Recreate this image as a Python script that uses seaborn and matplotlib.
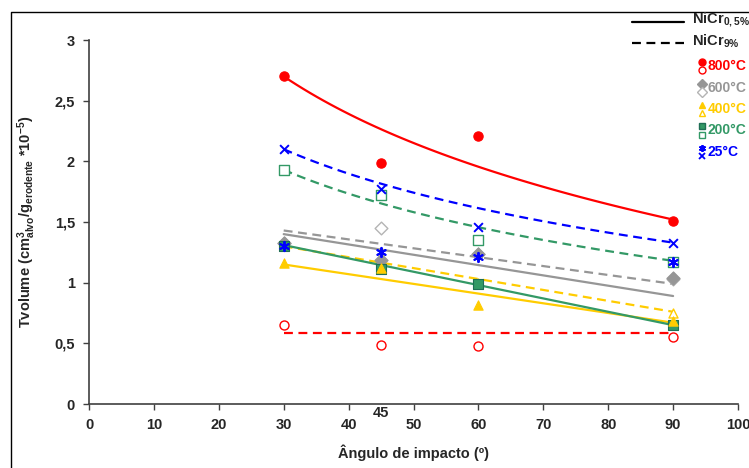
import numpy as np
import pandas as pd
import matplotlib
matplotlib.use('Agg')
import matplotlib.pyplot as plt
import seaborn as sns
from matplotlib.lines import Line2D

# impact angles (deg)
angles = [30, 45, 60, 90]

# wear volume, NiCr 0,5% (filled markers) and NiCr 9% (open markers)
v800_low = [2.70, 1.99, 2.21, 1.51]
v800_high = [0.65, 0.49, 0.48, 0.55]
v600_low = [1.33, 1.19, 1.24, 1.04]
v600_high = [1.33, 1.45, 1.24, 1.03]
v400_low = [1.16, 1.12, 0.82, 0.68]
v400_high = [1.30, 1.14, 1.00, 0.75]
v200_low = [1.30, 1.11, 0.99, 0.65]
v200_high = [1.93, 1.72, 1.35, 1.17]
v25_low = [1.30, 1.25, 1.21, 1.17]
v25_high = [2.10, 1.77, 1.46, 1.33]

temps = ['800°C', '600°C', '400°C', '200°C', '25°C']

# trendlines: value at 30° and at 90°, and the model
trend_low_30 = [2.70, 1.40, 1.15, 1.31, None]
trend_low_90 = [1.52, 0.89, 0.67, 0.65, None]
trend_low_kind = ['log', 'lin', 'lin', 'lin', None]
trend_high_30 = [0.585, 1.43, 1.30, 1.93, 2.10]
trend_high_90 = [0.585, 0.99, 0.76, 1.18, 1.33]
trend_high_kind = ['lin', 'lin', 'lin', 'log', 'log']

y_ticks = [0, 0.5, 1, 1.5, 2, 2.5, 3]
y_ticklabels = ['0', '0,5', '1', '1,5', '2', '2,5', '3']
x_ticks = list(range(0, 101, 10))

colors = ['#FF0000', '#969696', '#FFCC00', '#339966', '#0000FF']
open_edge = ['#FF0000', '#B4B4B4', '#FFCC00', '#339966', '#0000FF']
markers_low = ['o', 'D', '^', 's', (6, 2, 0)]
markers_high = ['o', 'D', '^', 's', 'x']

low_vals = [v800_low, v600_low, v400_low, v200_low, v25_low]
high_vals = [v800_high, v600_high, v400_high, v200_high, v25_high]

sns.set_style('white')
plt.rcParams['font.family'] = ['Liberation Sans', 'DejaVu Sans']
plt.rcParams['mathtext.fontset'] = 'custom'
plt.rcParams['mathtext.rm'] = 'Liberation Sans'
plt.rcParams['mathtext.bf'] = 'Liberation Sans:bold'
plt.rcParams['mathtext.default'] = 'regular'

fig = plt.figure(figsize=(7.49, 4.68), dpi=100)
ax = fig.add_axes([89 / 749, 64 / 468, 649 / 749, 364 / 468])


def trend(y30, y90, kind):
    xs = np.linspace(30, 90, 60)
    if kind == 'log':
        b = (y90 - y30) / np.log(3)
        ys = y30 + b * np.log(xs / 30)
    else:
        ys = y30 + (y90 - y30) * (xs - 30) / 60
    return pd.DataFrame({'x': xs, 'y': ys})


# trendlines
for i in range(5):
    if trend_low_kind[i] is not None:
        d = trend(trend_low_30[i], trend_low_90[i], trend_low_kind[i])
        sns.lineplot(data=d, x='x', y='y', ax=ax, color=colors[i], lw=1.6)
    d = trend(trend_high_30[i], trend_high_90[i], trend_high_kind[i])
    sns.lineplot(data=d, x='x', y='y', ax=ax, color=colors[i], lw=1.6,
                 dashes=False, linestyle=(0, (4, 2.5)))

# points, in the order the original draws them
order = [0, 1, 3, 2, 4]
for i in order:
    df = pd.DataFrame({'angle': angles, 'low': low_vals[i], 'high': high_vals[i]})
    if markers_high[i] == 'x':
        sns.scatterplot(data=df, x='angle', y='high', ax=ax, marker='x',
                        color=colors[i], s=40, linewidth=1.4, zorder=5)
    else:
        sns.scatterplot(data=df, x='angle', y='high', ax=ax, marker=markers_high[i],
                        facecolor='white', edgecolor=open_edge[i], s=42,
                        linewidth=1.0, zorder=5)
    if i == 4:
        sns.scatterplot(data=df, x='angle', y='low', ax=ax, marker=markers_low[i],
                        color=colors[i], edgecolor=colors[i], s=45,
                        linewidth=1.4, zorder=6)
    else:
        edge = '#1F6E55' if i == 3 else colors[i]
        sns.scatterplot(data=df, x='angle', y='low', ax=ax, marker=markers_low[i],
                        color=colors[i], edgecolor=edge, s=45,
                        linewidth=0.8, zorder=6)

ax.set_xlim(0, 100)
ax.set_ylim(0, 3)
ax.set_xticks(x_ticks)
ax.set_yticks(y_ticks)
ax.set_yticklabels(y_ticklabels)
for lab in ax.get_xticklabels() + ax.get_yticklabels():
    lab.set_fontweight('bold')
    lab.set_fontsize(10.5)
ax.tick_params(axis='both', direction='out', length=4, width=1, color='#404040', pad=6,
               left=True, bottom=True)
for s in ['top', 'right']:
    ax.spines[s].set_visible(False)
for s in ['left', 'bottom']:
    ax.spines[s].set_color('#404040')
    ax.spines[s].set_linewidth(1.2)

ax.text(45, -0.026, '45', transform=ax.get_xaxis_transform(), ha='center', va='center',
        fontsize=10.5, fontweight='bold')

ax.set_xlabel('Ângulo de impacto (º)', fontsize=10.5, fontweight='bold')
ax.xaxis.set_label_coords(0.5, -0.11)
ax.set_ylabel(r'Tvolume (cm$^{3}_{alvo}$/g$_{erodente}$ *10$^{-5}$)', fontsize=10.5,
              fontweight='bold')
ax.yaxis.set_label_coords(-0.078, 0.5)


def fp(x, y):
    return x / 749, 1 - y / 468


# outer chart frame
x0, y0 = fp(11, 12)
fig.add_artist(Line2D([x0, x0, 1.01], [-0.01, y0, y0], transform=fig.transFigure,
                      color='black', lw=1.0))

# legend built by hand: two line styles, then stacked marker pairs
for yy, ls, lab in [(22, '-', r'NiCr$_{\mathbf{0,5\%}}$'), (43, (0, (4, 2.5)), r'NiCr$_{\mathbf{9\%}}$')]:
    a, b = fp(632, yy)
    c, _ = fp(684, yy)
    fig.add_artist(Line2D([a, c], [b, b], transform=fig.transFigure, color='black',
                          lw=1.6, linestyle=ls))
    tx, ty = fp(692, yy - 2)
    fig.text(tx, ty, lab, fontsize=10.5, fontweight='bold', va='center', ha='left')

for i, t in enumerate(temps):
    ytop = 62 + i * 21.5
    mx, my1 = fp(702, ytop)
    _, my2 = fp(702, ytop + 8)
    if i == 4:
        fig.add_artist(Line2D([mx], [my1], transform=fig.transFigure, marker=markers_low[i],
                              color=colors[i], markersize=5, mew=1.3, linestyle='none'))
        fig.add_artist(Line2D([mx], [my2], transform=fig.transFigure, marker='x',
                              color=colors[i], markersize=5, mew=1.3, linestyle='none'))
    else:
        edge = '#1F6E55' if i == 3 else colors[i]
        fig.add_artist(Line2D([mx], [my1], transform=fig.transFigure, marker=markers_low[i],
                              color=colors[i], mec=edge, markersize=5, linestyle='none'))
        fig.add_artist(Line2D([mx], [my2], transform=fig.transFigure, marker=markers_high[i],
                              mfc='white', mec=open_edge[i], markersize=5, mew=1.0,
                              linestyle='none'))
    tx, ty = fp(708, ytop + 4)
    fig.text(tx, ty, t, color=colors[i], fontsize=10, fontweight='bold',
             va='center', ha='left')

fig.savefig('out.png', dpi=100)
